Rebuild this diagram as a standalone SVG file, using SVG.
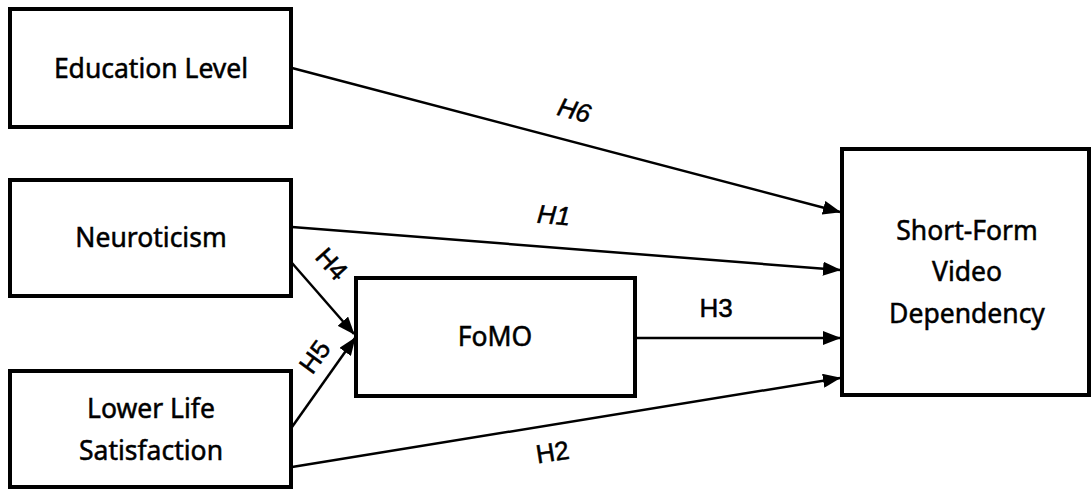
<svg xmlns="http://www.w3.org/2000/svg" width="1091" height="489" viewBox="0 0 1091 489">
<defs>
<marker id="ah" markerWidth="18" markerHeight="14" refX="17" refY="7" orient="auto" markerUnits="userSpaceOnUse">
<path d="M0,0 L18,7 L0,14 Z" fill="#000"/>
</marker>
<style>
.box{fill:#fff;stroke:#000;stroke-width:4}
.lbl{font-family:"Noto Sans","Open Sans",sans-serif;font-size:26.5px;fill:#000;stroke:#000;stroke-width:0.5;text-anchor:middle}
.h{font-family:"Liberation Sans",Arial,sans-serif;font-size:26px;fill:#000;stroke:#000;stroke-width:0.5;text-anchor:middle}
.c{stroke:#000;stroke-width:2.5;fill:none;marker-end:url(#ah)}
</style>
</defs>
<rect width="1091" height="489" fill="#fff"/>
<g id="connectors">
<line class="c" x1="292" y1="68" x2="840" y2="212"/>
<line class="c" x1="292" y1="227" x2="840" y2="270"/>
<line class="c" x1="636" y1="338" x2="840" y2="338"/>
<line class="c" x1="292" y1="467" x2="840" y2="378"/>
<line class="c" x1="292" y1="263" x2="354" y2="334"/>
<line class="c" x1="292" y1="427" x2="355" y2="338"/>
<text class="h" font-style="italic" transform="translate(572,119) rotate(14.7)">H6</text>
<text class="h" font-style="italic" transform="translate(553,224) rotate(4.5)">H1</text>
<text class="h" x="716" y="317">H3</text>
<text class="h" transform="translate(554,461) rotate(-9)">H2</text>
<text class="h" transform="translate(325,270) rotate(48)">H4</text>
<text class="h" transform="translate(322,362) rotate(-54)">H5</text>
</g>
<g id="edu">
<rect class="box" x="10" y="9" width="281" height="118"/>
<text class="lbl" x="151" y="78">Education Level</text>
</g>
<g id="neuro">
<rect class="box" x="10" y="180" width="281" height="116"/>
<text class="lbl" x="151" y="247">Neuroticism</text>
</g>
<g id="lls">
<rect class="box" x="10" y="371" width="281" height="116"/>
<text class="lbl" x="151" y="418">Lower Life</text>
<text class="lbl" x="151" y="460">Satisfaction</text>
</g>
<g id="fomo">
<rect class="box" x="356" y="278" width="279" height="118"/>
<text class="lbl" x="495" y="346">FoMO</text>
</g>
<g id="sfvd">
<rect class="box" x="842" y="149" width="247" height="246"/>
<text class="lbl" x="967" y="240">Short-Form</text>
<text class="lbl" x="967" y="281">Video</text>
<text class="lbl" x="967" y="323">Dependency</text>
</g>
</svg>
